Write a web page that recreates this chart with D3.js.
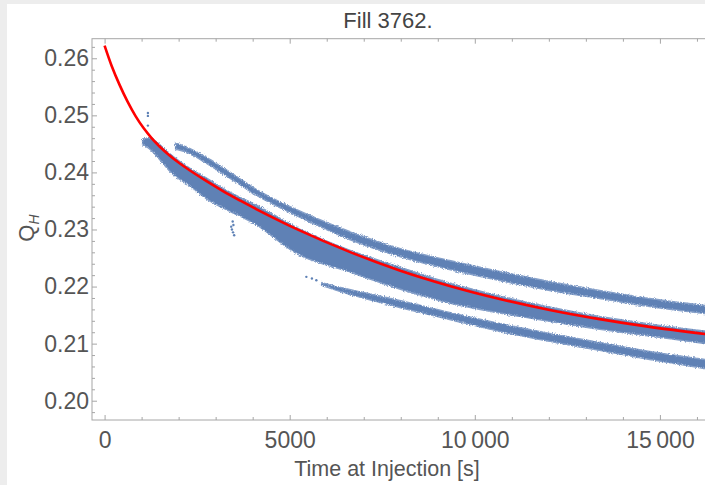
<!DOCTYPE html>
<html><head><meta charset="utf-8">
<script src="https://cdn.jsdelivr.net/npm/d3@7"></script>
<style>body{margin:0;background:#fff;overflow:hidden}</style>
</head><body><svg id="c" width="705" height="485"></svg>
<script>
// ---- data ----
const title = "Fill 3762.";
const xLabel = "Time at Injection [s]";
const xTicks = [0, 5000, 10000, 15000];
const xTickLabels = ["0", "5000", "10\u2009000", "15\u2009000"];
const xMinorTicks = [1000,2000,3000,4000,6000,7000,8000,9000,11000,12000,13000,14000,16000];
const yTicks = [0.20, 0.21, 0.22, 0.23, 0.24, 0.25, 0.26];
const yTickLabels = ["0.20", "0.21", "0.22", "0.23", "0.24", "0.25", "0.26"];
const yMinorTicks = [0.198,0.202,0.204,0.206,0.208,0.212,0.214,0.216,0.218,0.222,0.224,0.226,0.228,0.232,0.234,0.236,0.238,0.242,0.244,0.246,0.248,0.252,0.254,0.256,0.258,0.262];

// fitted curve (red)
const fitTime = [0, 189, 405, 621, 837, 1053, 1270, 1486, 1756, 2026, 2296, 2755, 3187, 3647, 4106, 5267, 6618, 7969, 9319, 10670, 12021, 13371, 14722, 16207, 16550];
const fitQ    = [0.26221, 0.25870, 0.25534, 0.25240, 0.24987, 0.24777, 0.24602, 0.24455, 0.24297, 0.24160, 0.24038, 0.23847, 0.23678, 0.23512, 0.23354, 0.22984, 0.22608, 0.22283, 0.22012, 0.21784, 0.21591, 0.21430, 0.21294, 0.21169, 0.21143];

// main (middle) band of measured points: upper / lower edge
const midTime   = [1026, 1216, 1405, 1837, 2296, 2755, 3187, 3647, 4106, 5267, 6618, 7969, 9319, 10670, 12021, 13371, 14722, 16207, 16550];
const midTop    = [0.24585, 0.24603, 0.24533, 0.24288, 0.24077, 0.23902, 0.23727, 0.23569, 0.23429, 0.23008, 0.22640, 0.22341, 0.22062, 0.21834, 0.21641, 0.21475, 0.21344, 0.21221, 0.21195];
const midBottom = [0.24481, 0.24411, 0.24289, 0.23974, 0.23763, 0.23535, 0.23377, 0.23237, 0.23079, 0.22550, 0.22254, 0.21958, 0.21712, 0.21537, 0.21390, 0.21250, 0.21134, 0.21003, 0.20976];

// upper band
const upTime   = [1918, 2296, 2755, 3187, 3647, 4106, 4997, 6618, 7969, 9319, 10670, 12021, 13371, 14722, 16207, 16550];
const upTop    = [0.24516, 0.24420, 0.24262, 0.24087, 0.23894, 0.23701, 0.23404, 0.22965, 0.22668, 0.22457, 0.22265, 0.22089, 0.21931, 0.21791, 0.21669, 0.21642];
const upBottom = [0.24411, 0.24332, 0.24157, 0.23981, 0.23788, 0.23597, 0.23298, 0.22825, 0.22527, 0.22299, 0.22106, 0.21931, 0.21791, 0.21651, 0.21528, 0.21502];

// lower band
const lowTime   = [5862, 6618, 7969, 9319, 10670, 12021, 13371, 14722, 16207, 16550];
const lowTop    = [0.22070, 0.21950, 0.21757, 0.21547, 0.21354, 0.21179, 0.21021, 0.20863, 0.20723, 0.20687];
const lowBottom = [0.22020, 0.21862, 0.21634, 0.21423, 0.21213, 0.21039, 0.20881, 0.20723, 0.20565, 0.20529];

// isolated points
const outTime = [1170, 1170, 1170, 5450, 5600, 5720, 3460, 3480, 3440, 3470, 3500, 3420];
const outQ    = [0.2504, 0.2499, 0.2482, 0.2217, 0.2214, 0.2211, 0.2314, 0.2308, 0.2300, 0.2295, 0.2290, 0.2305];

(function () {
const svg = d3.select("#c");
const pL = 92, pT = 38.7, pB = 420, pR = 717.3;
const x = d3.scaleLinear().domain([-340, 16550]).range([pL, pR]);
const y = d3.scaleLinear().domain([0.19662, 0.26343]).range([pB, pT]);

// speckle filter so the bands look like dense point clouds
const defs = svg.append("defs");
const f = defs.append("filter").attr("id", "speck").attr("x", "-5%").attr("y", "-20%").attr("width", "110%").attr("height", "140%");
f.append("feTurbulence").attr("type", "fractalNoise").attr("baseFrequency", 0.9).attr("numOctaves", 2).attr("seed", 3).attr("result", "n");
f.append("feDisplacementMap").attr("in", "SourceGraphic").attr("in2", "n").attr("scale", 3.5).attr("xChannelSelector", "R").attr("yChannelSelector", "G");

// screenshot border
svg.append("rect").attr("x",0).attr("y",0).attr("width",705).attr("height",485).attr("fill","#fff");
svg.append("rect").attr("x",0).attr("y",0).attr("width",7).attr("height",485).attr("fill","#ededed");
svg.append("rect").attr("x",0).attr("y",0).attr("width",705).attr("height",4).attr("fill","#ededed");

const blue = "#5E81B5";
const gBands = svg.append("g").attr("filter", "url(#speck)");
function band(t, a, b) {
  const d = t.map((v, i) => ({t: v, a: a[i], b: b[i]}));
  const area = d3.area().x(p => x(p.t)).y0(p => y(p.b)).y1(p => y(p.a)).curve(d3.curveCatmullRom);
  gBands.append("path").attr("d", area(d)).attr("fill", blue).attr("stroke", "#86a0c9").attr("stroke-width", 1.4);
}
band(midTime, midTop, midBottom);
band(upTime, upTop, upBottom);
band(lowTime, lowTop, lowBottom);

svg.selectAll("circle.out").data(outTime.map((t, i) => [t, outQ[i]])).enter()
  .append("circle").attr("cx", d => x(d[0])).attr("cy", d => y(d[1])).attr("r", 1.2).attr("fill", blue);

const line = d3.line().x((d, i) => x(fitTime[i])).y(d => y(d)).curve(d3.curveCatmullRom);
svg.append("path").attr("d", line(fitQ)).attr("fill", "none").attr("stroke", "#ff0000").attr("stroke-width", 2.6);

// frame
const frameColor = "#a6a6a6";
svg.append("rect").attr("x", pL).attr("y", pT).attr("width", pR - pL).attr("height", pB - pT)
  .attr("fill", "none").attr("stroke", frameColor).attr("stroke-width", 1);

const gB = svg.append("g").attr("transform", `translate(0,${pB})`)
  .call(d3.axisBottom(x).tickValues(xTicks).tickFormat((d, i) => xTickLabels[i]).tickSize(-5).tickPadding(12));
const gBm = svg.append("g").attr("transform", `translate(0,${pB})`)
  .call(d3.axisBottom(x).tickValues(xMinorTicks).tickFormat("").tickSize(-3));
const gT = svg.append("g").attr("transform", `translate(0,${pT})`)
  .call(d3.axisTop(x).tickValues(xTicks).tickFormat("").tickSize(-5));
const gTm = svg.append("g").attr("transform", `translate(0,${pT})`)
  .call(d3.axisTop(x).tickValues(xMinorTicks).tickFormat("").tickSize(-3));
const gL = svg.append("g").attr("transform", `translate(${pL},0)`)
  .call(d3.axisLeft(y).tickValues(yTicks).tickFormat((d, i) => yTickLabels[i]).tickSize(-5).tickPadding(3));
const gLm = svg.append("g").attr("transform", `translate(${pL},0)`)
  .call(d3.axisLeft(y).tickValues(yMinorTicks).tickFormat("").tickSize(-3));

[gB, gBm, gT, gTm, gL, gLm].forEach(g => {
  g.select(".domain").remove();
  g.selectAll(".tick line").attr("stroke", frameColor);
  g.selectAll(".tick text").attr("fill", "#555").attr("font-family", "Liberation Sans, Arial, sans-serif").attr("font-size", 23);
});

svg.append("text").attr("x", 388).attr("y", 28).attr("text-anchor", "middle")
  .attr("font-family", "Liberation Sans, Arial, sans-serif").attr("font-size", 22).attr("fill", "#444").text(title);
svg.append("text").attr("x", 387).attr("y", 476).attr("text-anchor", "middle")
  .attr("font-family", "Liberation Sans, Arial, sans-serif").attr("font-size", 21.5).attr("fill", "#555").text(xLabel);

const yl = svg.append("text").attr("transform", "translate(34,228) rotate(-90)").attr("text-anchor", "middle")
  .attr("font-family", "Liberation Sans, Arial, sans-serif").attr("font-size", 22).attr("fill", "#555");
yl.append("tspan").text("Q");
yl.append("tspan").attr("font-size", 14).attr("font-style", "italic").attr("dy", 5).text("H");
})();
</script>
</body></html>
